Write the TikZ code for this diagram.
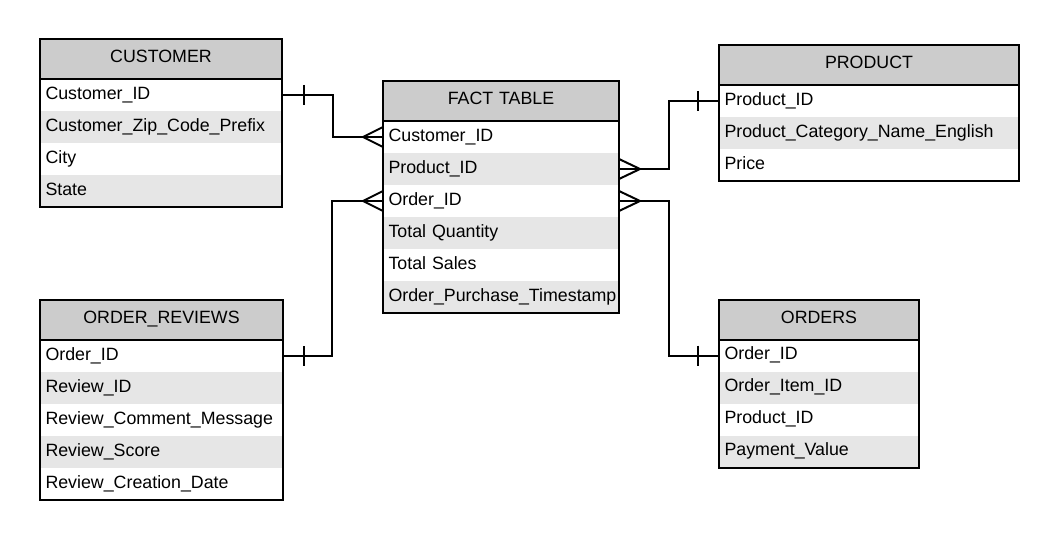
\documentclass[tikz,border=0pt]{standalone}
\usepackage{fontspec}
\setmainfont{Liberation Sans}
\usetikzlibrary{calc}
\definecolor{hdrgray}{HTML}{CCCCCC}
\definecolor{rowgray}{HTML}{E6E6E6}
\tikzset{
 cell/.style={rectangle, inner xsep=5.5pt, inner ysep=0pt, outer sep=0pt, minimum height=32pt,
   text height=8.7pt, text depth=0pt, font=\fontsize{17.8}{20}\selectfont,
   anchor=north west, align=left},
 hdr/.style={cell, fill=hdrgray, minimum height=40pt, align=center, text height=7.7pt},
 oddrow/.style={cell, fill=white},
 evenrow/.style={cell, fill=rowgray},
 frame/.style={draw=black, line width=2pt},
 conn/.style={draw=black, line width=2pt},
}
\begin{document}
\begin{tikzpicture}[x=1pt,y=-1pt]
\path[use as bounding box, fill=white] (0,0) rectangle (1059,540);

% CUSTOMER
\node[hdr, text width=231pt] (cust-h) at (40,39) {CUSTOMER};
\node[oddrow, text width=231pt] (cust-1) at (cust-h.south west) {Customer\_ID};
\node[evenrow, text width=231pt] (cust-2) at (cust-1.south west) {Customer\_Zip\_Code\_Prefix};
\node[oddrow, text width=231pt] (cust-3) at (cust-2.south west) {City};
\node[evenrow, text width=231pt] (cust-4) at (cust-3.south west) {State};
\draw[frame] (cust-h.north west) rectangle (cust-4.south east);
\draw[frame] (cust-h.south west) -- (cust-h.south east);

% FACT TABLE
\node[hdr, text width=225pt] (fact-h) at (383,81) {FACT TABLE};
\node[oddrow, text width=225pt] (fact-1) at (fact-h.south west) {Customer\_ID};
\node[evenrow, text width=225pt] (fact-2) at (fact-1.south west) {Product\_ID};
\node[oddrow, text width=225pt] (fact-3) at (fact-2.south west) {Order\_ID};
\node[evenrow, text width=225pt] (fact-4) at (fact-3.south west) {Total Quantity};
\node[oddrow, text width=225pt] (fact-5) at (fact-4.south west) {Total Sales};
\node[evenrow, text width=225pt] (fact-6) at (fact-5.south west) {Order\_Purchase\_Timestamp};
\draw[frame] (fact-h.north west) rectangle (fact-6.south east);
\draw[frame] (fact-h.south west) -- (fact-h.south east);

% PRODUCT
\node[hdr, text width=289pt] (prod-h) at (719,45) {PRODUCT};
\node[oddrow, text width=289pt] (prod-1) at (prod-h.south west) {Product\_ID};
\node[evenrow, text width=289pt] (prod-2) at (prod-1.south west) {Product\_Category\_Name\_English};
\node[oddrow, text width=289pt] (prod-3) at (prod-2.south west) {Price};
\draw[frame] (prod-h.north west) rectangle (prod-3.south east);
\draw[frame] (prod-h.south west) -- (prod-h.south east);

% ORDER_REVIEWS
\node[hdr, text width=232pt] (rev-h) at (40,300) {ORDER\_REVIEWS};
\node[oddrow, text width=232pt] (rev-1) at (rev-h.south west) {Order\_ID};
\node[evenrow, text width=232pt] (rev-2) at (rev-1.south west) {Review\_ID};
\node[oddrow, text width=232pt] (rev-3) at (rev-2.south west) {Review\_Comment\_Message};
\node[evenrow, text width=232pt] (rev-4) at (rev-3.south west) {Review\_Score};
\node[oddrow, text width=232pt] (rev-5) at (rev-4.south west) {Review\_Creation\_Date};
\draw[frame] (rev-h.north west) rectangle (rev-5.south east);
\draw[frame] (rev-h.south west) -- (rev-h.south east);

% ORDERS
\node[hdr, text width=189pt] (ord-h) at (719,299.5) {ORDERS};
\node[oddrow, text width=189pt] (ord-1) at (ord-h.south west) {Order\_ID};
\node[evenrow, text width=189pt] (ord-2) at (ord-1.south west) {Order\_Item\_ID};
\node[oddrow, text width=189pt] (ord-3) at (ord-2.south west) {Product\_ID};
\node[evenrow, text width=189pt] (ord-4) at (ord-3.south west) {Payment\_Value};
\draw[frame] (ord-h.north west) rectangle (ord-4.south east);
\draw[frame] (ord-h.south west) -- (ord-h.south east);

% Connectors
% CUSTOMER -> FACT
\draw[conn] (cust-1.east) -- ++(51,0) |- (fact-1.west);
\draw[conn] ($(cust-1.east)+(22,-10)$) -- ($(cust-1.east)+(22,10)$);
\draw[conn] ($(fact-1.west)+(0,-10)$) -- ($(fact-1.west)+(-20,0)$) -- ($(fact-1.west)+(0,10)$);

% ORDER_REVIEWS -> FACT
\draw[conn] (rev-1.east) -- ++(49,0) |- (fact-3.west);
\draw[conn] ($(rev-1.east)+(21,-10)$) -- ($(rev-1.east)+(21,10)$);
\draw[conn] ($(fact-3.west)+(0,-10)$) -- ($(fact-3.west)+(-20,0)$) -- ($(fact-3.west)+(0,10)$);

% PRODUCT -> FACT
\draw[conn] (prod-1.west) -- ++(-50,0) |- (fact-2.east);
\draw[conn] ($(prod-1.west)+(-21,-10)$) -- ($(prod-1.west)+(-21,10)$);
\draw[conn] ($(fact-2.east)+(0,-10)$) -- ($(fact-2.east)+(21,0)$) -- ($(fact-2.east)+(0,10)$);

% ORDERS -> FACT
\draw[conn] (ord-1.west) -- ++(-50,0) |- (fact-3.east);
\draw[conn] ($(ord-1.west)+(-21,-10)$) -- ($(ord-1.west)+(-21,10)$);
\draw[conn] ($(fact-3.east)+(0,-10)$) -- ($(fact-3.east)+(21,0)$) -- ($(fact-3.east)+(0,10)$);
\end{tikzpicture}
\end{document}
